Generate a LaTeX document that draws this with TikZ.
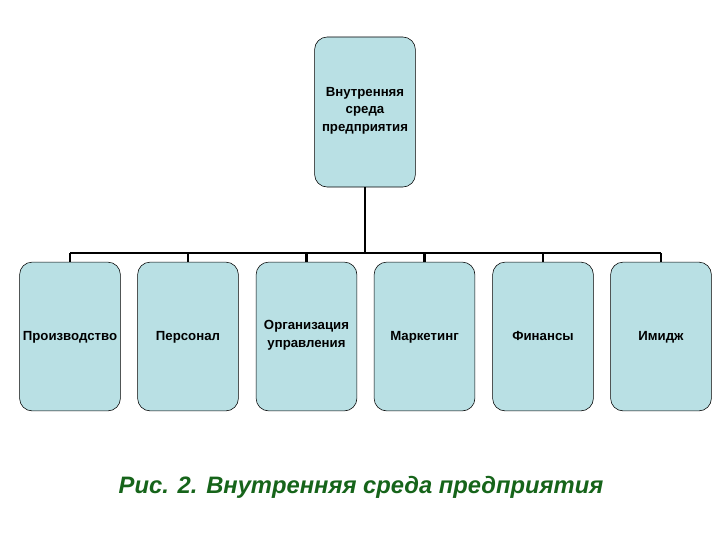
\documentclass[tikz,border=0pt]{standalone}
\usepackage{fontspec}
\setmainfont{Liberation Sans}
\usetikzlibrary{positioning}
\definecolor{boxfill}{RGB}{185,224,228}
\definecolor{capgreen}{RGB}{22,100,26}

\begin{document}
\begin{tikzpicture}[x=0.025cm,y=-0.025cm,
  unit/.style={draw,fill=boxfill,rounded corners=9pt,minimum width=2.52cm,minimum height=3.72cm,align=center,font=\fontsize{9.4}{12.7}\selectfont\bfseries,inner sep=1pt,execute at begin node=\strut},
  link/.style={line width=1.6pt}
]
\useasboundingbox (0,0) rectangle (720,540);
% top
\node[unit,minimum height=3.75cm] (env) at (365,112) {Внутренняя\\среда\\предприятия};
% bottom row
\node[unit] (prod) at (70,336.5) {Производство};
\node[unit] (staff) at (188,336.5) {Персонал};
\node[unit] (org) at (306.5,336.5) {Организация\\управления};
\node[unit] (mkt) at (424.5,336.5) {Маркетинг};
\node[unit] (fin) at (543,336.5) {Финансы};
\node[unit] (img) at (661,336.5) {Имидж};

\coordinate (bus) at (366,253);
\draw[link] (env.south) -- (env.south |- bus);
\draw[link] (prod.north |- bus) -- (img.north |- bus);
\foreach \n in {prod,staff,org,mkt,fin,img}
  \draw[link] (\n.north |- bus) -- (\n.north);

\node[font=\fontsize{16.9}{20}\selectfont\bfseries\itshape,text=capgreen] (cap) at (361,487) {Рис. 2. Внутренняя среда предприятия};
\end{tikzpicture}
\end{document}
